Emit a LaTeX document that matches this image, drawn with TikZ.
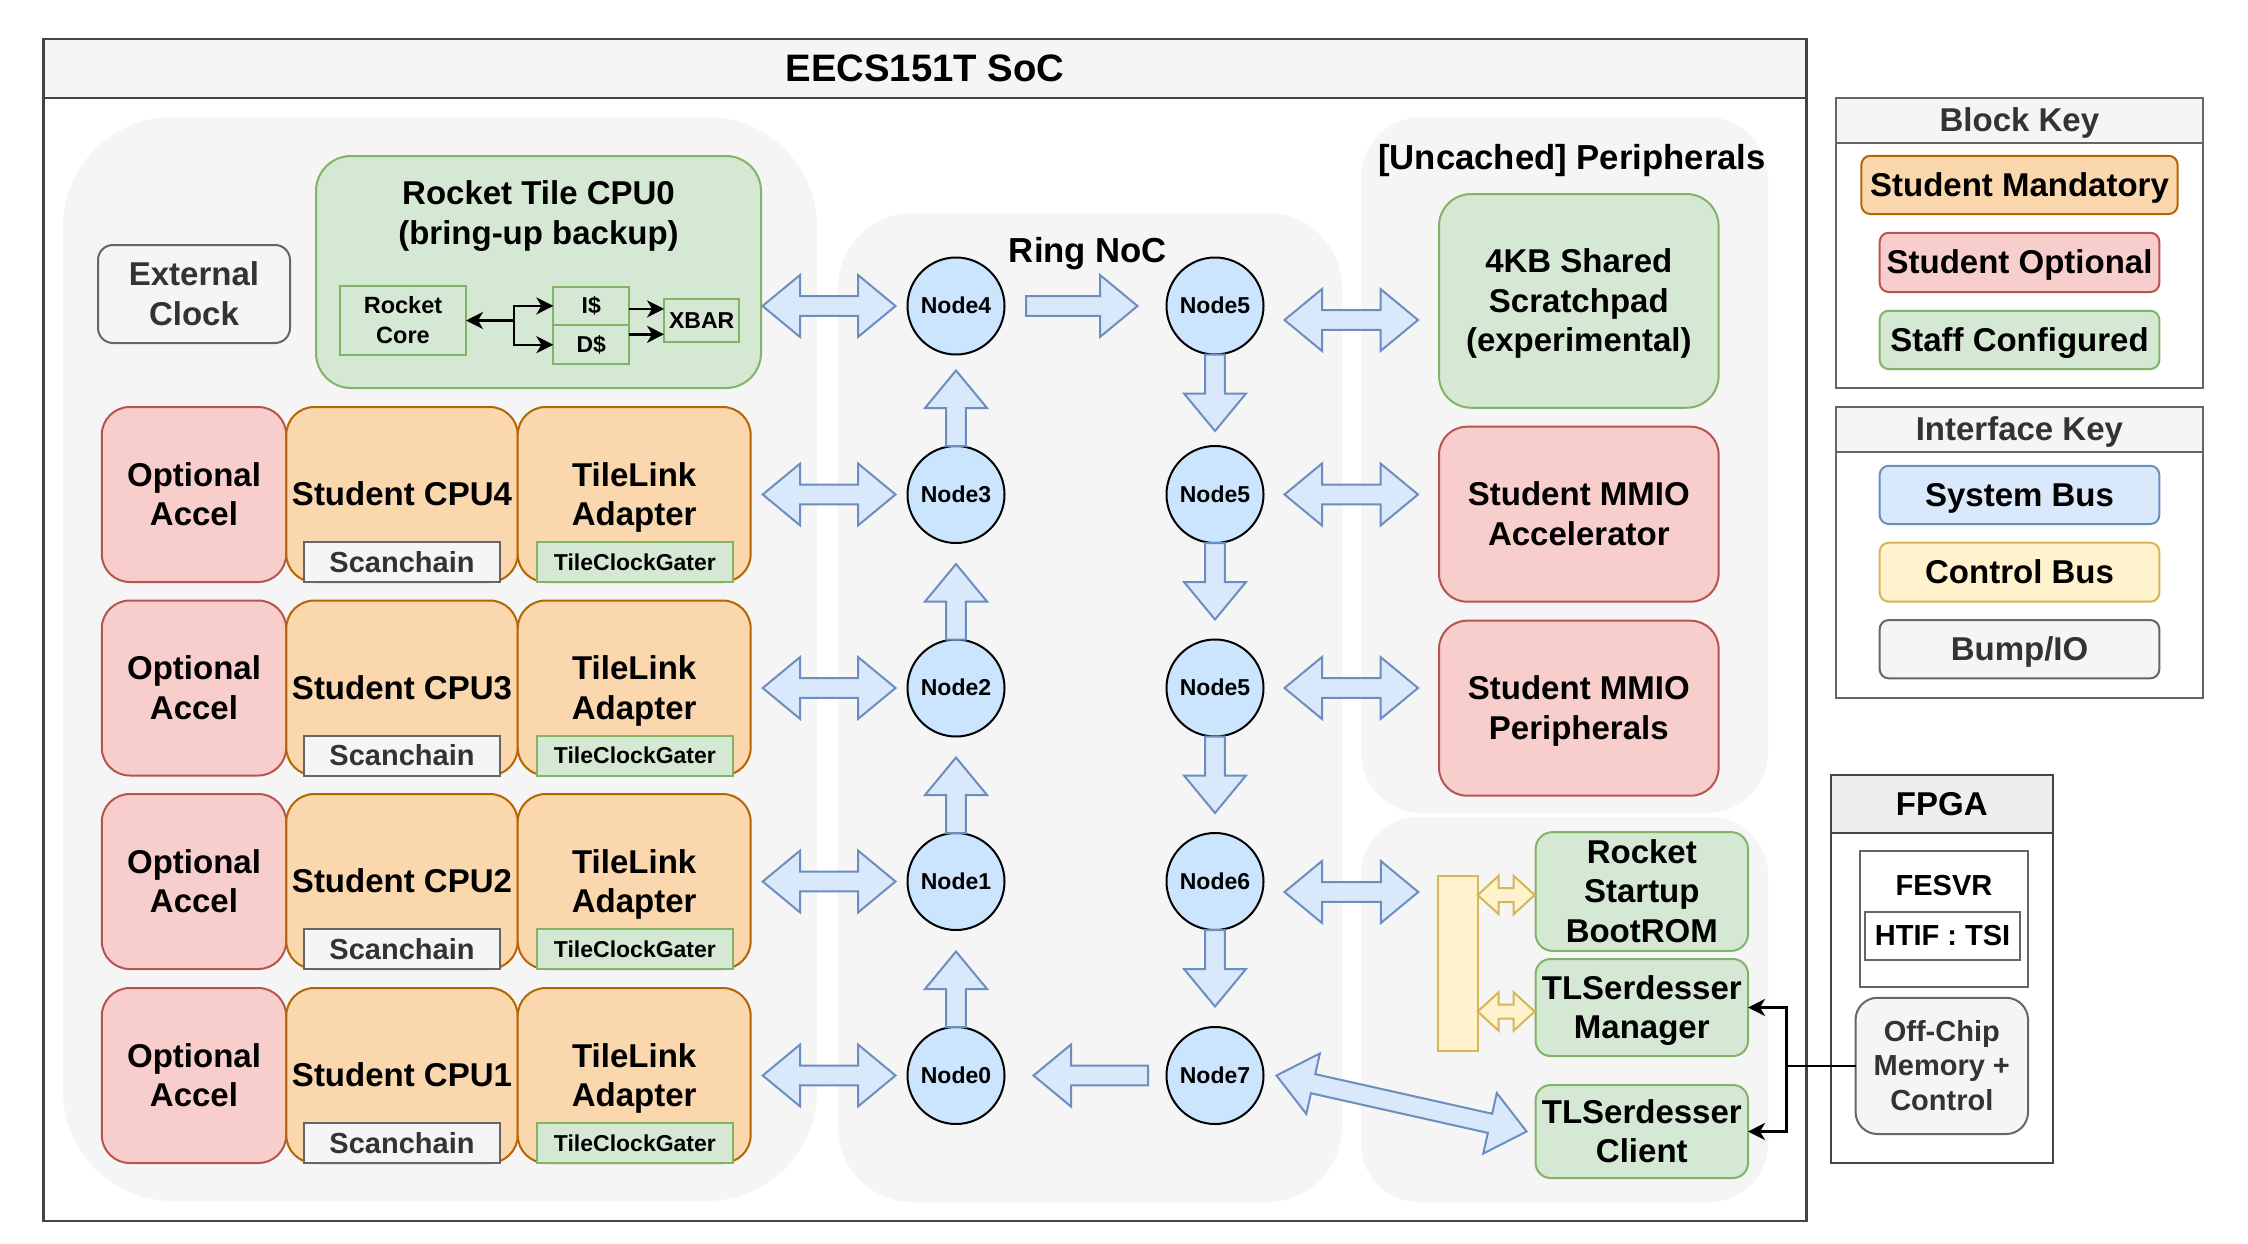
\documentclass[tikz,border=0pt]{standalone}
\usepackage{fontspec}
\setmainfont{Liberation Sans}
\usetikzlibrary{calc,arrows.meta}
\definecolor{gfill}{HTML}{D5E8D4}\definecolor{gline}{HTML}{82B366}
\definecolor{rfill}{HTML}{F8CECC}\definecolor{rline}{HTML}{B85450}
\definecolor{ofill}{HTML}{FAD7AC}\definecolor{oline}{HTML}{B46504}
\definecolor{bfill}{HTML}{DAE8FC}\definecolor{bline}{HTML}{6C8EBF}
\definecolor{yfill}{HTML}{FFF2CC}\definecolor{yline}{HTML}{D6B656}
\definecolor{kfill}{HTML}{F5F5F5}\definecolor{kline}{HTML}{666666}\definecolor{ktext}{HTML}{333333}
\definecolor{nfill}{HTML}{CCE5FF}
\definecolor{contfill}{HTML}{F5F5F5}
\definecolor{socline}{HTML}{444444}
\definecolor{fpgatitle}{HTML}{EEEEEE}
\newcommand\ls{\rule[-0.2535em]{0pt}{1.2em}}
\newcommand\fA{\fontsize{33}{39.6}\selectfont}
\newcommand\fT{\fontsize{38.3}{46}\selectfont}
\newcommand\fS{\fontsize{23}{27.6}\selectfont}
\newcommand\fM{\fontsize{29}{34.8}\selectfont}
\newcommand\fL{\fontsize{34.7}{41.6}\selectfont}
\newcommand\fC{\fontsize{23.5}{30}\selectfont}
% double-headed flex arrow: #1 style, #2 A, #3 B, #4 head length, #5 head half width, #6 shaft half width
\newcommand\dflex[6]{%
 \draw[#1] (#2)
  -- ($(#2)!#4!(#3)!#5!90:(#3)$)
  -- ($(#2)!#4!(#3)!#6!90:(#3)$)
  -- ($(#3)!#4!(#2)!#6!-90:(#2)$)
  -- ($(#3)!#4!(#2)!#5!-90:(#2)$)
  -- (#3)
  -- ($(#3)!#4!(#2)!#5!90:(#2)$)
  -- ($(#3)!#4!(#2)!#6!90:(#2)$)
  -- ($(#2)!#4!(#3)!#6!-90:(#3)$)
  -- ($(#2)!#4!(#3)!#5!-90:(#3)$)
  -- cycle;}
% single-headed flex arrow: tail #2, tip #3
\newcommand\sflex[6]{%
 \draw[#1] ($(#2)!#6!90:(#3)$)
  -- ($(#3)!#4!(#2)!#6!-90:(#2)$)
  -- ($(#3)!#4!(#2)!#5!-90:(#2)$)
  -- (#3)
  -- ($(#3)!#4!(#2)!#5!90:(#2)$)
  -- ($(#3)!#4!(#2)!#6!90:(#2)$)
  -- ($(#2)!#6!-90:(#3)$)
  -- cycle;}
\begin{document}
\begin{tikzpicture}[x=1pt,y=-1pt,
 every node/.style={inner sep=0pt,outer sep=0pt},
 lbl/.style={align=center,font=\bfseries\fA},
 bx/.style={lbl,draw,line width=2pt},
 gbox/.style={bx,fill=gfill,draw=gline},
 rbox/.style={bx,fill=rfill,draw=rline},
 obox/.style={bx,fill=ofill,draw=oline},
 kbox/.style={bx,fill=kfill,draw=kline,text=ktext},
 bbox/.style={bx,fill=bfill,draw=bline},
 ybox/.style={bx,fill=yfill,draw=yline},
 wbox/.style={bx,fill=white,draw=kline},
 nocnode/.style={circle,draw=black,fill=nfill,line width=2pt,minimum size=97pt,font=\bfseries\fS},
 flex/.style={draw=bline,fill=bfill,line width=2pt,line join=miter},
 yflex/.style={draw=yline,fill=yfill,line width=2pt,line join=miter},
 blk/.style={draw=black,line width=2.4pt},
 bh/.tip={Stealth[length=17pt,width=17pt,inset=5pt]},
]
\useasboundingbox (0,0) rectangle (2248,1244);
\fill[white] (0,0) rectangle (2248,1244);

% SoC frame
\node[draw=socline,line width=2.2pt,fill=white,minimum width=1763pt,minimum height=1182pt] (soc) at (925,630.3) {};
\node[lbl,draw=socline,line width=2.2pt,fill=kfill,minimum width=1763pt,minimum height=58.4pt,font=\bfseries\fT] (soctitle) at (925,68.5) {\ls EECS151T SoC\ls};

% containers
\fill[contfill,rounded corners=110pt] (63,117) rectangle (817,1201);
\fill[contfill,rounded corners=75pt] (838,213) rectangle (1342,1202);
\fill[contfill,rounded corners=61pt] (1361,117) rectangle (1768,813);
\fill[contfill,rounded corners=58pt] (1361,817) rectangle (1768,1202);
\node[lbl,font=\bfseries\fL] (lring) at (1088,250) {\ls Ring NoC\ls};
\node[lbl,font=\bfseries\fL] (lunc) at (1572,157) {\ls [Uncached] Peripherals\ls};

% left side
\node[kbox,rounded corners=15pt,minimum width=192pt,minimum height=98pt] (ext) at (194,294) {\ls External\\Clock\ls};
\node[gbox,rounded corners=35pt,minimum width=445pt,minimum height=232pt] (rt) at (538.5,272) {};
\node[lbl] (rtl) at (538.5,213) {\ls Rocket Tile CPU0\\(bring-up backup)\ls};
\node[gbox,minimum width=126pt,minimum height=69pt,font=\bfseries\fC] (core) at (403,320.5) {\ls Rocket\\Core\ls};
\node[gbox,minimum width=75.7pt,minimum height=38.3pt,font=\bfseries\fS] (ic) at (591.2,305.9) {\ls I\$\ls};
\node[gbox,minimum width=75.7pt,minimum height=39.3pt,font=\bfseries\fS] (dc) at (591.2,344.7) {\ls D\$\ls};
\node[gbox,minimum width=75.3pt,minimum height=43.3pt,font=\bfseries\fS] (xb) at (701.7,320.7) {\ls XBAR\ls};
\coordinate (jn) at ([xshift=48pt]core.east);
\draw[blk,-{bh}] (jn) -- (core.east);
\draw[blk,-{bh}] (jn) |- (ic.west);
\draw[blk,-{bh}] (jn) |- (dc.west);
\draw[blk,-{bh}] ($(ic.east)+(0,3)$) -- ($(ic.east -| xb.west)+(0,3)$);
\draw[blk,-{bh}] ($(dc.east)+(0,-10.4)$) -- ($(dc.east -| xb.west)+(0,-10.4)$);

\foreach \n/\c in {4/494.5,3/688,2/881.5,1/1075.5}{
 \node[rbox,rounded corners=28pt,minimum width=184.5pt,minimum height=175pt] (acc\n) at (194,\c) {\ls Optional\\Accel\ls};
 \node[obox,rounded corners=28pt,minimum width=231.5pt,minimum height=175pt] (cpu\n) at (402,\c) {\ls Student CPU\n\ls};
 \node[obox,rounded corners=28pt,minimum width=233pt,minimum height=175pt] (tl\n) at (634.2,\c) {\ls TileLink\\Adapter\ls};
 \node[kbox,minimum width=196.4pt,minimum height=39.6pt,font=\bfseries\fM] (sc\n) at (402,\c+67.7) {\ls Scanchain\ls};
 \node[gbox,minimum width=196.3pt,minimum height=39.6pt,font=\bfseries\fS] (tcg\n) at (634.9,\c+67.7) {\ls TileClockGater\ls};
}

% ring nodes
\node[nocnode] (n4) at (956,306) {\ls Node4\ls};
\node[nocnode] (n3) at (956,494.5) {\ls Node3\ls};
\node[nocnode] (n2) at (956,688) {\ls Node2\ls};
\node[nocnode] (n1) at (956,881.5) {\ls Node1\ls};
\node[nocnode] (n0) at (956,1075.5) {\ls Node0\ls};
\node[nocnode] (n5a) at (1215,306) {\ls Node5\ls};
\node[nocnode] (n5b) at (1215,494.5) {\ls Node5\ls};
\node[nocnode] (n5c) at (1215,688) {\ls Node5\ls};
\node[nocnode] (n6) at (1215,881.5) {\ls Node6\ls};
\node[nocnode] (n7) at (1215,1075.5) {\ls Node7\ls};

% peripherals
\node[gbox,rounded corners=32pt,minimum width=279.6pt,minimum height=213.7pt] (scr) at (1578.8,300.9) {\ls 4KB Shared\\Scratchpad\\(experimental)\ls};
\node[rbox,rounded corners=28pt,minimum width=279.6pt,minimum height=175pt] (mmacc) at (1578.8,514.2) {\ls Student MMIO\\Accelerator\ls};
\node[rbox,rounded corners=28pt,minimum width=279.6pt,minimum height=175pt] (mmper) at (1578.8,708.2) {\ls Student MMIO\\Peripherals\ls};
\node[ybox,minimum width=39.4pt,minimum height=175.3pt] (bar) at (1458,963.4) {};
\node[gbox,rounded corners=17pt,minimum width=212.4pt,minimum height=117pt] (boot) at (1641.8,891.5) {\ls Rocket\\Startup\\BootROM\ls};
\node[gbox,rounded corners=15pt,minimum width=212.4pt,minimum height=97pt] (mgr) at (1641.8,1007.5) {\ls TLSerdesser\\Manager\ls};
\node[gbox,rounded corners=15pt,minimum width=212.4pt,minimum height=93pt] (cli) at (1641.8,1131.5) {\ls TLSerdesser\\Client\ls};

% keys
\node[draw=kline,line width=2pt,fill=white,minimum width=367.2pt,minimum height=290.6pt] (bk) at (2019.4,243) {};
\node[lbl,draw=kline,line width=2pt,fill=kfill,text=ktext,minimum width=367.2pt,minimum height=45pt] (bkt) at (2019.4,120.2) {\ls Block Key\ls};
\node[obox,rounded corners=9pt,minimum width=316.2pt,minimum height=58.3pt] (k1) at (2019.5,184.9) {\ls Student Mandatory\ls};
\node[rbox,rounded corners=9pt,minimum width=279.6pt,minimum height=59.3pt] (k2) at (2019.5,262.4) {\ls Student Optional\ls};
\node[gbox,rounded corners=9pt,minimum width=279.6pt,minimum height=58.3pt] (k3) at (2019.5,339.9) {\ls Staff Configured\ls};
\node[draw=kline,line width=2pt,fill=white,minimum width=367.2pt,minimum height=290.4pt] (ik) at (2019.4,552.5) {};
\node[lbl,draw=kline,line width=2pt,fill=kfill,text=ktext,minimum width=367.2pt,minimum height=44.4pt] (ikt) at (2019.4,429.5) {\ls Interface Key\ls};
\node[bbox,rounded corners=9pt,minimum width=279.6pt,minimum height=58.3pt] (i1) at (2019.5,494.9) {\ls System Bus\ls};
\node[ybox,rounded corners=9pt,minimum width=279.6pt,minimum height=59pt] (i2) at (2019.5,572.2) {\ls Control Bus\ls};
\node[kbox,rounded corners=9pt,minimum width=279.6pt,minimum height=58.3pt] (i3) at (2019.5,649.2) {\ls Bump/IO\ls};

% FPGA
\node[draw=socline,line width=2.2pt,fill=white,minimum width=222.4pt,minimum height=388.3pt] (fp) at (1941.8,969.2) {};
\node[lbl,draw=socline,line width=2.2pt,fill=fpgatitle,minimum width=222.4pt,minimum height=58.3pt] (fpt) at (1941.8,804.2) {\ls FPGA\ls};
\node[wbox,minimum width=168pt,minimum height=136.3pt] (fes) at (1944,918.9) {};
\node[lbl,font=\bfseries\fM] (fest) at (1944,885) {\ls FESVR\ls};
\node[wbox,minimum width=155pt,minimum height=48.3pt,font=\bfseries\fM] (htif) at (1942.5,935.9) {\ls HTIF : TSI\ls};
\node[kbox,rounded corners=22pt,minimum width=172.5pt,minimum height=136.3pt,font=\bfseries\fM] (off) at (1941.8,1065.9) {\ls Off-Chip\\Memory +\\Control\ls};

% FPGA connectors
\coordinate (fj) at ([xshift=-69pt]off.west);
\draw[blk] (off.west) -- (fj);
\draw[blk,-{bh}] (fj) |- (mgr.east);
\draw[blk,-{bh}] (fj) |- (cli.east);

% system bus arrows (left side)
\coordinate (la0) at ([xshift=1.5pt]rt.east |- n4.center);
\coordinate (lb0) at ([xshift=-12pt]n4.west);
\dflex{flex}{la0}{lb0}{37.5pt}{31pt}{9.8pt}
\foreach \n/\m in {4/3,3/2,2/1,1/0}{
 \coordinate (la\n) at ([xshift=12pt]tl\n.east);
 \coordinate (lb\n) at ([xshift=-12pt]n\m.west);
 \dflex{flex}{la\n}{lb\n}{37.5pt}{31pt}{9.8pt}
}
% ring arrows
\coordinate (r45a) at ([xshift=21.5pt]n4.east);
\coordinate (r45b) at ([xshift=-29pt]n5a.west);
\sflex{flex}{r45a}{r45b}{37.5pt}{31pt}{9.8pt}
\coordinate (r70a) at ([xshift=-18.5pt]n7.west);
\coordinate (r70b) at ([xshift=29pt]n0.east);
\sflex{flex}{r70a}{r70b}{37.5pt}{31pt}{9.8pt}
\foreach \a/\b in {n3/u34,n2/u23,n1/u12,n0/u01}{
 \coordinate (\b) at ([yshift=75.5pt]\a.north);
 \sflex{flex}{\a.north}{\b}{37.5pt}{31pt}{9.8pt}
}
\foreach \a/\b in {n5a/d1,n5b/d2,n5c/d3,n6/d4}{
 \coordinate (\b) at ([yshift=-76.5pt]\a.south);
 \sflex{flex}{\a.south}{\b}{37.5pt}{31pt}{9.8pt}
}
% right side arrows
\coordinate (ra0) at ($(n5a.east)+(21,14)$);
\coordinate (rb0) at ($(scr.west |- ra0)+(-21,0)$);
\dflex{flex}{ra0}{rb0}{37.5pt}{31pt}{9.8pt}
\coordinate (ra1) at ([xshift=21pt]n5b.east);
\coordinate (rb1) at ($(mmacc.west |- ra1)+(-21,0)$);
\dflex{flex}{ra1}{rb1}{37.5pt}{31pt}{9.8pt}
\coordinate (ra2) at ([xshift=21pt]n5c.east);
\coordinate (rb2) at ($(mmper.west |- ra2)+(-21,0)$);
\dflex{flex}{ra2}{rb2}{37.5pt}{31pt}{9.8pt}
\coordinate (ra3) at ($(n6.east)+(21,10.5)$);
\coordinate (rb3) at ($(bar.west |- ra3)+(-20,0)$);
\dflex{flex}{ra3}{rb3}{37.5pt}{31pt}{9.8pt}
\coordinate (ra4) at ([xshift=13pt]n7.east);
\coordinate (rb4) at ([xshift=-9pt]cli.west);
\dflex{flex}{ra4}{rb4}{37.5pt}{31pt}{9.8pt}
% control bus arrows
\coordinate (ya1) at ($(bar.east |- boot.west)+(0,3.5)$);
\coordinate (yb1) at ($(boot.west)+(-1,3.5)$);
\dflex{yflex}{ya1}{yb1}{21pt}{19.3pt}{7pt}
\coordinate (ya2) at ($(bar.east |- mgr.west)+(0,4)$);
\coordinate (yb2) at ($(mgr.west)+(-1,4)$);
\dflex{yflex}{ya2}{yb2}{21pt}{19.3pt}{7pt}
\end{tikzpicture}
\end{document}
